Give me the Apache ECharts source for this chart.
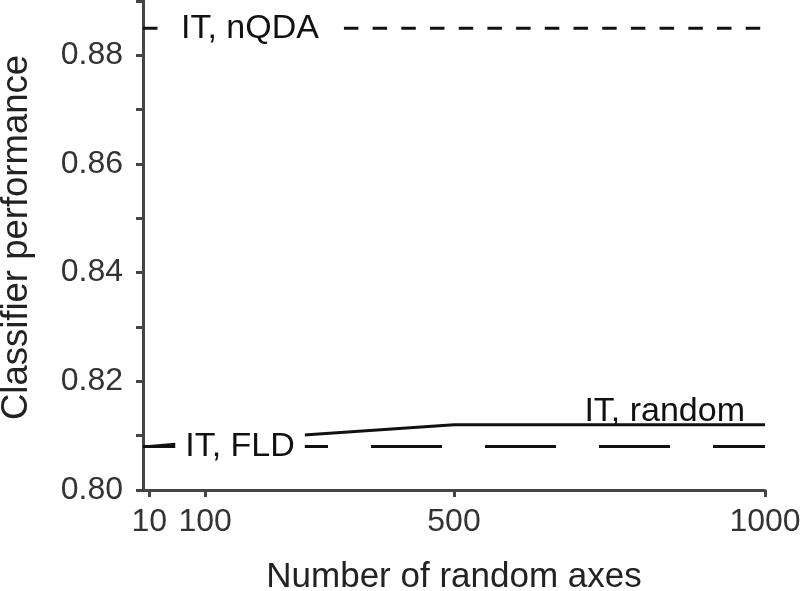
<!DOCTYPE html>
<html>
<head>
<meta charset="utf-8">
<script src="https://cdn.jsdelivr.net/npm/echarts@6/dist/echarts.min.js"></script>
<style>
  html, body {margin: 0; padding: 0; background: #fff;}
  #main {width: 800px; height: 591px;}
</style>
</head>
<body>
<div id="main"></div>
<script>
  // 数据
  const xTicks = [10, 100, 500, 1000]
  const yLabels = [0.80, 0.82, 0.84, 0.86, 0.88]
  const randomX = [10, 100, 500, 1000]
  const randomY = [0.808, 0.8089, 0.812, 0.812]
  const nqdaX = [0, 1000]
  const nqdaY = [0.885, 0.885]
  const fldX = [0, 1000]
  const fldY = [0.808, 0.808]
  // 文字标签的位置
  const labelNames = ['IT, nQDA', 'IT, FLD', 'IT, random']
  const labelX = [172, 156, 1000]
  const labelY = [0.885, 0.808, 0.8145]

  const pair = (xs, ys) => xs.map((x, i) => [x, ys[i]])

  const font = 'Liberation Sans'
  const lineColor = '#111'

  let myChart = echarts.init(document.getElementById('main'), null, {renderer: 'canvas'})

  let option = {
    animation: false,
    grid: {left: 143, right: 35, top: 1, bottom: 101, outerBoundsMode: 'none', containLabel: false},
    xAxis: {
      type: 'value',
      min: 0,
      max: 1000,
      name: 'Number of random axes',
      nameLocation: 'middle',
      nameGap: 70,
      nameTextStyle: {fontFamily: font, fontSize: 35, color: '#222'},
      axisLine: {lineStyle: {color: '#444', width: 3}},
      axisTick: {customValues: xTicks, length: 7, inside: false, lineStyle: {color: '#444', width: 3}},
      axisLabel: {
        customValues: xTicks, margin: 16, fontFamily: font, fontSize: 32, color: '#333',
        formatter: (v) => String(v)
      },
      splitLine: {show: false}
    },
    yAxis: {
      type: 'value',
      min: 0.80,
      max: 0.89,
      interval: 0.01,
      name: 'Classifier performance',
      nameLocation: 'middle',
      nameGap: 108,
      // 左边padding让标题往上移一点
      nameTextStyle: {fontFamily: font, fontSize: 36.5, color: '#222', padding: [0, 0, 0, 16]},
      axisLine: {show: true, lineStyle: {color: '#444', width: 3}},
      axisTick: {show: true, length: 7, lineStyle: {color: '#444', width: 3}},
      axisLabel: {
        customValues: yLabels,
        margin: 20,
        fontFamily: font,
        fontSize: 32,
        color: '#333',
        formatter: (v) => v.toFixed(2)
      },
      splitLine: {show: false}
    },
    series: [
      {
        name: 'IT, nQDA',
        type: 'line',
        data: pair(nqdaX, nqdaY),
        symbol: 'none',
        lineStyle: {color: lineColor, width: 3, type: [14.5, 14.2]},
        z: 2
      },
      {
        name: 'IT, FLD',
        type: 'line',
        data: pair(fldX, fldY),
        symbol: 'none',
        lineStyle: {color: lineColor, width: 3, type: [71, 43]},
        z: 2
      },
      {
        name: 'IT, random',
        type: 'line',
        data: pair(randomX, randomY),
        symbol: 'none',
        lineStyle: {color: lineColor, width: 3},
        z: 3
      },
      {
        // 白底文字盖住线
        type: 'scatter',
        symbolSize: 0,
        z: 10,
        silent: true,
        itemStyle: {opacity: 1},
        emphasis: {disabled: true},
        data: labelNames.map((n, i) => ({
          value: [labelX[i], labelY[i]],
          label: {
            show: true,
            position: 'inside',
            formatter: n,
            fontFamily: font,
            fontSize: 34,
            color: '#111',
            backgroundColor: i < 2 ? '#fff' : 'transparent',
            padding: i == 0 ? [4, 14] : [2, 10],
            align: i == 2 ? 'right' : 'center',
            offset: i == 2 ? [-10, 0] : [0, 0]
          }
        }))
      }
    ]
  }
  myChart.setOption(option)
</script>
</body>
</html>
